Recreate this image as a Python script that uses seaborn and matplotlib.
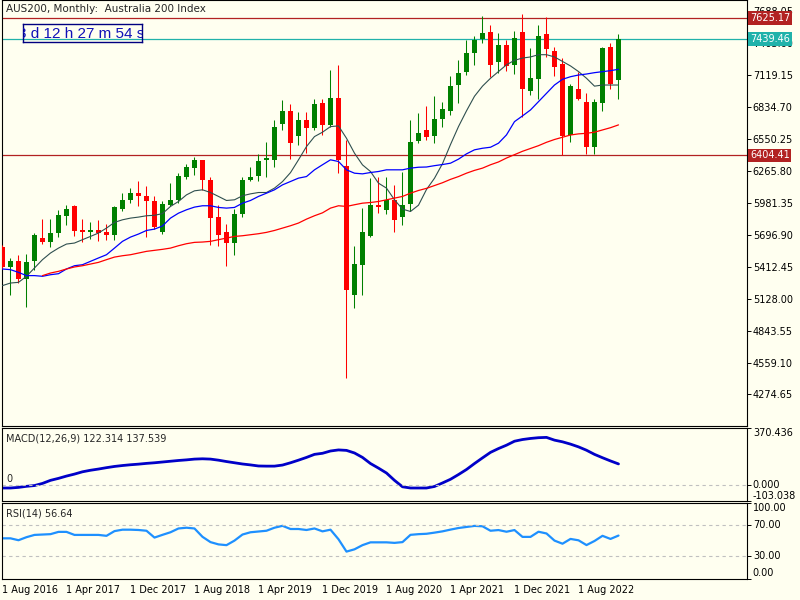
import numpy as np
import pandas as pd
import matplotlib
matplotlib.use('Agg')
import matplotlib.pyplot as plt
import seaborn as sns

sns.set_style('white')
plt.rcParams['font.family'] = ['DejaVu Sans']

# monthly bars, Aug 2016 .. Jan 2023
dates = pd.date_range('2016-08-01', periods=78, freq='MS')

opens = [5584, 5407, 5466, 5300, 5462, 5670, 5629, 5709, 5860, 5955,
         5735, 5721, 5735, 5724, 5697, 5928, 6002, 6073, 6044, 5999,
         5721, 5964, 6002, 6215, 6295, 6358, 6186, 5854, 5721, 5620,
         5884, 6180, 6221, 6358, 6358, 6687, 6799, 6580, 6719, 6645,
         6873, 6675, 6918, 6310, 5158, 5424, 5682, 5958, 5913, 6002,
         5851, 5972, 6532, 6630, 6577, 6725, 6802, 7030, 7149, 7318,
         7442, 7501, 7238, 7386, 7208, 7501, 6980, 7087, 7484, 7336,
         7217, 6586, 6995, 6876, 6482, 6873, 7371, 7075]
highs = [5610, 5489, 5513, 5528, 5712, 5839, 5839, 5919, 5964, 5964,
         5839, 5810, 5824, 5795, 5949, 6067, 6112, 6171, 6127, 6038,
         5999, 6156, 6251, 6328, 6390, 6364, 6215, 5958, 5795, 5928,
         6210, 6304, 6414, 6527, 6719, 6897, 6861, 6793, 6793, 6906,
         6906, 7164, 7208, 6541, 5599, 5937, 6201, 6215, 6210, 6141,
         6260, 6719, 6784, 6847, 6932, 6876, 7113, 7253, 7430, 7466,
         7644, 7567, 7493, 7430, 7507, 7661, 7356, 7564, 7632, 7371,
         7267, 7039, 7149, 6962, 6903, 7371, 7401, 7481]
lows = [5390, 5158, 5267, 5051, 5386, 5611, 5584, 5673, 5786, 5682,
        5632, 5656, 5638, 5653, 5653, 5904, 5978, 5949, 5673, 5747,
        5703, 5949, 5978, 6192, 6230, 6097, 5608, 5593, 5415, 5519,
        5851, 6171, 6171, 6207, 6304, 6630, 6369, 6497, 6429, 6630,
        6586, 6660, 6251, 4423, 5045, 5158, 5673, 5890, 5881, 5718,
        5780, 5904, 6518, 6541, 6518, 6654, 6764, 6867, 7119, 7208,
        7407, 7104, 7140, 7158, 7128, 6749, 6941, 6906, 7282, 7110,
        6405, 6521, 6897, 6417, 6414, 6802, 6998, 6906]
closes = [5407, 5466, 5300, 5457, 5697, 5629, 5715, 5875, 5928, 5727,
          5721, 5735, 5715, 5697, 5940, 6008, 6073, 6038, 5993, 5765,
          5973, 6008, 6221, 6301, 6358, 6180, 5842, 5691, 5620, 5884,
          6186, 6215, 6355, 6381, 6657, 6799, 6518, 6719, 6645, 6861,
          6675, 6918, 6364, 5208, 5439, 5724, 5958, 5943, 6002, 5830,
          5964, 6524, 6607, 6565, 6726, 6817, 7021, 7137, 7318, 7430,
          7493, 7211, 7386, 7199, 7445, 6998, 7096, 7466, 7347, 7193,
          6577, 7021, 6906, 6476, 6882, 7362, 7042, 7439.46]

ma_fast = [5244, 5267, 5273, 5327, 5401, 5475, 5534, 5578, 5614, 5623,
           5653, 5682, 5712, 5756, 5807, 5830, 5845, 5854, 5866, 5870,
           5885, 5949, 5993, 6052, 6088, 6097, 6073, 6038, 6002, 6008,
           6044, 6061, 6073, 6073, 6112, 6170, 6250, 6364, 6482, 6571,
           6610, 6660, 6666, 6556, 6423, 6319, 6260, 6156, 6112, 6008,
           5925, 5904, 5960, 6100, 6200, 6330, 6500, 6660, 6800, 6930,
           7020, 7090, 7150, 7210, 7250, 7270, 7280, 7300, 7300, 7280,
           7240, 7200, 7150, 7090, 7020, 7030, 7030, 7030]
ma_mid = [5392, 5386, 5362, 5333, 5333, 5327, 5341, 5350, 5392, 5421,
          5430, 5460, 5490, 5519, 5578, 5638, 5676, 5703, 5735, 5747,
          5775, 5845, 5889, 5919, 5943, 5955, 5955, 5940, 5934, 5940,
          5978, 6002, 6038, 6067, 6097, 6141, 6171, 6201, 6215, 6275,
          6320, 6364, 6349, 6275, 6245, 6239, 6251, 6260, 6275, 6275,
          6275, 6290, 6298, 6300, 6312, 6322, 6334, 6370, 6417, 6453,
          6467, 6476, 6512, 6586, 6704, 6755, 6808, 6882, 6956, 7030,
          7081, 7104, 7119, 7128, 7140, 7149, 7158, 7170]
ma_slow = [np.nan, np.nan, np.nan, np.nan, np.nan, 5333, 5356, 5371, 5392, 5410,
           5421, 5436, 5451, 5475, 5498, 5510, 5519, 5534, 5549, 5558,
           5567, 5578, 5599, 5617, 5629, 5632, 5638, 5653, 5667, 5682,
           5688, 5697, 5706, 5718, 5735, 5756, 5777, 5801, 5836, 5866,
           5892, 5934, 5955, 5949, 5964, 5978, 5984, 5993, 6008, 6023,
           6038, 6067, 6091, 6110, 6135, 6160, 6190, 6215, 6245, 6270,
           6290, 6320, 6345, 6380, 6410, 6440, 6465, 6490, 6520, 6545,
           6565, 6585, 6595, 6600, 6610, 6630, 6650, 6675]

macd = [-20, -20, -16, -9, -4, 10, 30, 43, 58, 71,
        86, 96, 104, 113, 121, 127, 132, 136, 141, 145,
        150, 155, 160, 164, 169, 171, 169, 162, 153, 145,
        137, 131, 124, 123, 123, 130, 145, 162, 180, 200,
        207, 222, 229, 226, 209, 180, 140, 110, 78, 30,
        -12, -20, -20, -20, -10, 13, 37, 68, 101, 140,
        177, 213, 238, 260, 286, 297, 304, 309, 311, 293,
        282, 267, 249, 227, 200, 178, 157, 137.5]
rsi = [53, 53, 50.5, 54.5, 57.5, 58, 58.5, 61.5, 61.5, 57.5,
       57.5, 57.5, 57.5, 56.3, 62.5, 64.4, 64.4, 64, 63, 54,
       57.6, 61, 66, 67, 66, 55, 48, 45, 44, 50,
       58, 61, 62, 63, 67, 69.5, 65.3, 65.3, 64, 66,
       62.2, 64.4, 51.8, 35.5, 38.5, 44, 47.7, 47.7, 47.7, 47,
       48, 57.6, 58.5, 59, 60.5, 62.2, 64.5, 66.6, 68, 69.4,
       68.9, 63, 63.9, 61.7, 63.9, 54.9, 54.9, 61.7, 59.4, 50,
       45.9, 52.2, 50.4, 44.1, 49.5, 56.3, 52.2, 56.64]

price_ticks = [7688.05, 7403.60, 7119.15, 6834.70, 6550.25, 6265.80, 5981.35,
               5696.90, 5412.45, 5128.00, 4843.55, 4559.10, 4274.65]
level_high = 7625.17
level_last = 7439.46
level_low = 6404.41
date_labels = ['1 Aug 2016', '1 Apr 2017', '1 Dec 2017', '1 Aug 2018', '1 Apr 2019',
               '1 Dec 2019', '1 Aug 2020', '1 Apr 2021', '1 Dec 2021', '1 Aug 2022']

df = pd.DataFrame({'idx': np.arange(len(dates)), 'open': opens, 'high': highs,
                   'low': lows, 'close': closes, 'ma_fast': ma_fast, 'ma_mid': ma_mid,
                   'ma_slow': ma_slow, 'macd': macd, 'rsi': rsi})

bg = '#FFFFF0'
green = '#008000'
red = '#FF0000'
fs = 7

fig = plt.figure(figsize=(8, 6), dpi=100, facecolor=bg)


def px_axes(l, t, r, b):
    return fig.add_axes([l / 800, 1 - b / 600, (r - l) / 800, (b - t) / 600])


ax = px_axes(2, 0, 747.3, 426)
ax_m = px_axes(2, 428.3, 747.3, 500.7)
ax_r = px_axes(2, 502.7, 747.3, 578.5)
xlim = (-0.06, 93.1)

for a in (ax, ax_m, ax_r):
    a.set_facecolor(bg)
    a.set_xlim(*xlim)
    for s in a.spines.values():
        s.set_color('black')
        s.set_linewidth(0.8)
    a.yaxis.tick_right()
    a.tick_params(axis='y', direction='out', length=3, width=0.7, labelsize=fs, pad=1,
                  colors='black')

# candles
up = df['close'] >= df['open']
cols = np.where(up, green, red)
ax.vlines(df['idx'], df['low'], df['high'], colors=cols, lw=0.75, zorder=3)
body_lo = np.minimum(df['open'], df['close'])
body_h = np.maximum(np.abs(df['close'] - df['open']), 9)
ax.bar(df['idx'], body_h, bottom=body_lo, width=0.62, color=cols, lw=0, zorder=4)

sns.lineplot(data=df, x='idx', y='ma_fast', ax=ax, color='#2F4F4F', lw=0.8, zorder=5)
sns.lineplot(data=df, x='idx', y='ma_mid', ax=ax, color='#0000FF', lw=0.9, zorder=5)
sns.lineplot(data=df, x='idx', y='ma_slow', ax=ax, color='#FF0000', lw=0.9, zorder=5)

ax.axhline(level_high, color='#B22222', lw=0.9, zorder=2)
ax.axhline(level_low, color='#B22222', lw=0.9, zorder=2)
ax.axhline(level_last, color='#20B2AA', lw=0.9, zorder=2)

ax.set_ylim(3994, 7787)
ax.set_yticks(price_ticks)
ax.set_yticklabels([f'{v:.2f}' for v in price_ticks])
ax.set_xticks([])
ax.set_xlabel('')
ax.set_ylabel('')

for v, c in ((level_high, '#B22222'), (level_last, '#20B2AA'), (level_low, '#B22222')):
    ax.text(1.0035, v, f'{v:.2f}', transform=ax.get_yaxis_transform(), ha='left', va='center',
            fontsize=fs, color='white', clip_on=False, zorder=10,
            bbox=dict(boxstyle='square,pad=0.18', fc=c, ec='none'))

fig.text(6 / 800, 1 - 9 / 600, 'AUS200, Monthly:  Australia 200 Index', fontsize=7.5,
         ha='left', va='center')

# countdown box
tax = px_axes(23, 24, 142, 42)
tax.set_facecolor('none')
tax.set_xticks([])
tax.set_yticks([])
for s in tax.spines.values():
    s.set_color('#000080')
    s.set_linewidth(1)
tax.text(-0.046, 0.42, '3 d 12 h 27 m 54 s', transform=tax.transAxes, fontsize=11,
         family='Liberation Sans', color='#1010B8', ha='left', va='center', clip_on=True)

# MACD panel
sns.lineplot(data=df, x='idx', y='macd', ax=ax_m, color='#0000C8', lw=2)
ax_m.axhline(0, color='#C0C0C0', lw=0.8, ls=(0, (3, 3)))
ax_m.set_ylim(-103.038, 370.436)
ax_m.set_yticks([370.436, 0, -103.038])
ax_m.set_yticklabels(['370.436', '0.000', '-103.038'])
for t, va in zip(ax_m.get_yticklabels(), ['top', 'center', 'bottom']):
    t.set_va(va)
ax_m.set_xticks([])
ax_m.set_xlabel('')
ax_m.set_ylabel('')
ax_m.text(0.006, 0.86, 'MACD(12,26,9) 122.314 137.539', transform=ax_m.transAxes,
          fontsize=fs, ha='left', va='center')
ax_m.text(0.006, 0.3, '0', transform=ax_m.transAxes, fontsize=fs, ha='left', va='center')

# RSI panel
sns.lineplot(data=df, x='idx', y='rsi', ax=ax_r, color='#1E90FF', lw=1.6)
ax_r.axhline(70, color='#C0C0C0', lw=0.8, ls=(0, (3, 3)))
ax_r.axhline(30, color='#C0C0C0', lw=0.8, ls=(0, (3, 3)))
ax_r.set_ylim(0, 100)
ax_r.set_yticks([100, 70, 30, 0])
ax_r.set_yticklabels(['100.00', '70.00', '30.00', '0.00'])
for t, va in zip(ax_r.get_yticklabels(), ['top', 'center', 'center', 'bottom']):
    t.set_va(va)
ax_r.text(0.006, 0.86, 'RSI(14) 56.64', transform=ax_r.transAxes, fontsize=fs,
          ha='left', va='center')
ax_r.set_xlabel('')
ax_r.set_ylabel('')

label_dates = pd.to_datetime(date_labels, format='%d %b %Y')
tick_pos = [dates.get_loc(d) for d in label_dates]
ax_r.set_xticks(tick_pos)
ax_r.set_xticklabels(date_labels, ha='left')
ax_r.tick_params(axis='x', direction='out', length=3, width=0.7, labelsize=fs, pad=2,
                 colors='black')

fig.savefig('out.png', dpi=100, facecolor=bg)
